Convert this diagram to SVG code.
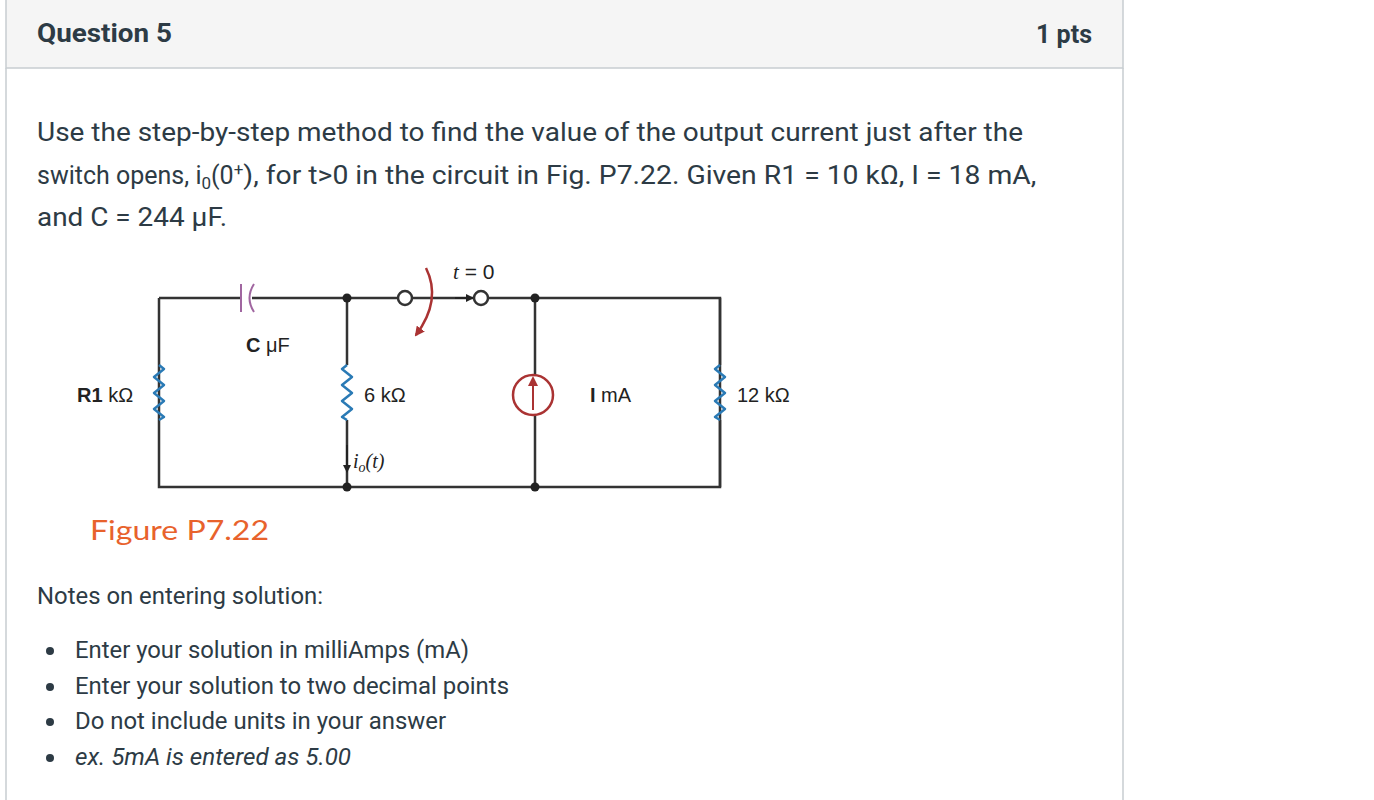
<svg xmlns="http://www.w3.org/2000/svg" width="1374" height="800" viewBox="0 0 1374 800">
<defs>
<style>
.t{font-family:Roboto,"Liberation Sans",sans-serif;fill:#2d3b45;}
.w{stroke:#333;stroke-width:2.5;fill:none}
.r{stroke:#2a7ab5;stroke-width:2.5;fill:none;stroke-linejoin:round}
.c{font-family:"Liberation Sans",sans-serif;font-size:20px;fill:#222}
</style>
<marker id="ah" markerWidth="8" markerHeight="8" refX="7" refY="4" orient="auto" markerUnits="userSpaceOnUse"><path d="M0,0L8,4L0,8z" fill="#222"/></marker>
<marker id="rh" markerWidth="10" markerHeight="10" refX="8" refY="5" orient="auto" markerUnits="userSpaceOnUse"><path d="M0,0L10,5L0,10z" fill="#a33"/></marker>
</defs>
<rect width="1374" height="800" fill="#fff"/>
<rect x="6" y="-2" width="1117" height="70" fill="#f5f5f5" stroke="#c7cdd1" stroke-width="1.5"/>
<line x1="6" y1="68" x2="6" y2="800" stroke="#c7cdd1" stroke-width="1.5"/>
<line x1="1123" y1="68" x2="1123" y2="800" stroke="#c7cdd1" stroke-width="1.5"/>
<text class="t" x="37" y="42" font-size="26" font-weight="bold" textLength="135" lengthAdjust="spacingAndGlyphs">Question 5</text>
<text class="t" x="1036" y="43" font-size="26" font-weight="bold" textLength="56" lengthAdjust="spacingAndGlyphs">1 pts</text>
<text class="t" font-size="25"><tspan x="37" y="141" textLength="986" lengthAdjust="spacingAndGlyphs">Use the step-by-step method to find the value of the output current just after the</tspan></text>
<text class="t" font-size="25" x="37" y="184">switch opens, i<tspan font-size="17" dy="5">0</tspan><tspan dy="-5">(0</tspan><tspan font-size="17" dy="-9">+</tspan><tspan dy="9" textLength="793" lengthAdjust="spacingAndGlyphs">), for t&gt;0 in the circuit in Fig. P7.22. Given R1 = 10 kΩ, I = 18 mA,</tspan></text>
<text class="t" font-size="25" x="37" y="226" textLength="190" lengthAdjust="spacingAndGlyphs">and C = 244 μF.</text>

<g id="connectors">
<path class="w" d="M159,298H240M252,298H398M412,298H474M488,298H720V487H159V298"/>
<path class="w" d="M347,298V365M347,420V487"/>
<path class="w" d="M535,298V375M535,415V487"/>
<path class="w" d="M159,365V365M720,298V365M720,420V487"/>
<line x1="347" y1="445" x2="347" y2="472" stroke="#222" stroke-width="2" marker-end="url(#ah)"/>
<line x1="455" y1="298" x2="473" y2="298" stroke="#222" stroke-width="2" marker-end="url(#ah)"/>
<path d="M426,268 Q442,300 416,335" stroke="#a33" stroke-width="2.5" fill="none" marker-end="url(#rh)"/>
</g>
<g id="r1"><path class="r" d="M159,365l5,4l-10,8l10,8l-10,8l10,8l-10,8l10,8l-5,3"/><text class="c" x="77" y="402"><tspan font-weight="bold">R1</tspan> kΩ</text></g>
<g id="cap"><path d="M241,284V312" stroke="#a066a0" stroke-width="2" fill="none"/><path d="M254,284Q245,298 254,312" stroke="#a066a0" stroke-width="2" fill="none"/><text class="c" x="246" y="352"><tspan font-weight="bold">C</tspan> μF</text></g>
<g id="r6"><path class="r" d="M347,365l-5,4l10,8l-10,8l10,8l-10,8l10,8l-10,8l5,3"/><text class="c" x="364" y="402">6 kΩ</text><text x="353" y="468" font-family="Liberation Serif,serif" font-style="italic" font-size="20" fill="#222">i<tspan font-size="14" dy="4">o</tspan><tspan dy="-4">(t)</tspan></text></g>
<g id="switch"><circle cx="405" cy="298" r="7" fill="#fff" stroke="#333" stroke-width="2.5"/><circle cx="481" cy="298" r="7" fill="#fff" stroke="#333" stroke-width="2.5"/><text x="453" y="279" font-family="Liberation Sans,sans-serif" font-size="21" fill="#222"><tspan font-family="Liberation Serif,serif" font-style="italic">t</tspan> = 0</text></g>
<g id="src"><circle cx="533" cy="395" r="20" fill="#fff" stroke="#a33" stroke-width="2.5"/><line x1="533" y1="410" x2="533" y2="378" stroke="#a33" stroke-width="2" marker-end="url(#rh)"/><text class="c" x="590" y="402"><tspan font-weight="bold">I</tspan> mA</text></g>
<g id="r12"><path class="r" d="M720,365l-5,4l10,8l-10,8l10,8l-10,8l10,8l-10,8l5,3"/><text class="c" x="737" y="402">12 kΩ</text></g>
<g id="dots" fill="#222"><circle cx="347" cy="298" r="4.5"/><circle cx="535" cy="298" r="4.5"/><circle cx="347" cy="487" r="4.5"/><circle cx="535" cy="487" r="4.5"/></g>
<text x="90" y="540" font-family="Lato,sans-serif" font-size="26" fill="#e8622c" textLength="179" lengthAdjust="spacingAndGlyphs">Figure P7.22</text>
<text class="t" x="37" y="604" font-size="23" textLength="286" lengthAdjust="spacingAndGlyphs">Notes on entering solution:</text>
<g class="t" font-size="23">
<circle cx="50" cy="651" r="4" fill="#2d3b45"/><text x="75" y="658" textLength="394" lengthAdjust="spacingAndGlyphs">Enter your solution in milliAmps (mA)</text>
<circle cx="50" cy="687" r="4" fill="#2d3b45"/><text x="75" y="694" textLength="434" lengthAdjust="spacingAndGlyphs">Enter your solution to two decimal points</text>
<circle cx="50" cy="722" r="4" fill="#2d3b45"/><text x="75" y="729" textLength="371" lengthAdjust="spacingAndGlyphs">Do not include units in your answer</text>
<circle cx="50" cy="758" r="4" fill="#2d3b45"/><text x="75" y="765" font-style="italic" textLength="276" lengthAdjust="spacingAndGlyphs">ex. 5mA is entered as 5.00</text>
</g>
</svg>
